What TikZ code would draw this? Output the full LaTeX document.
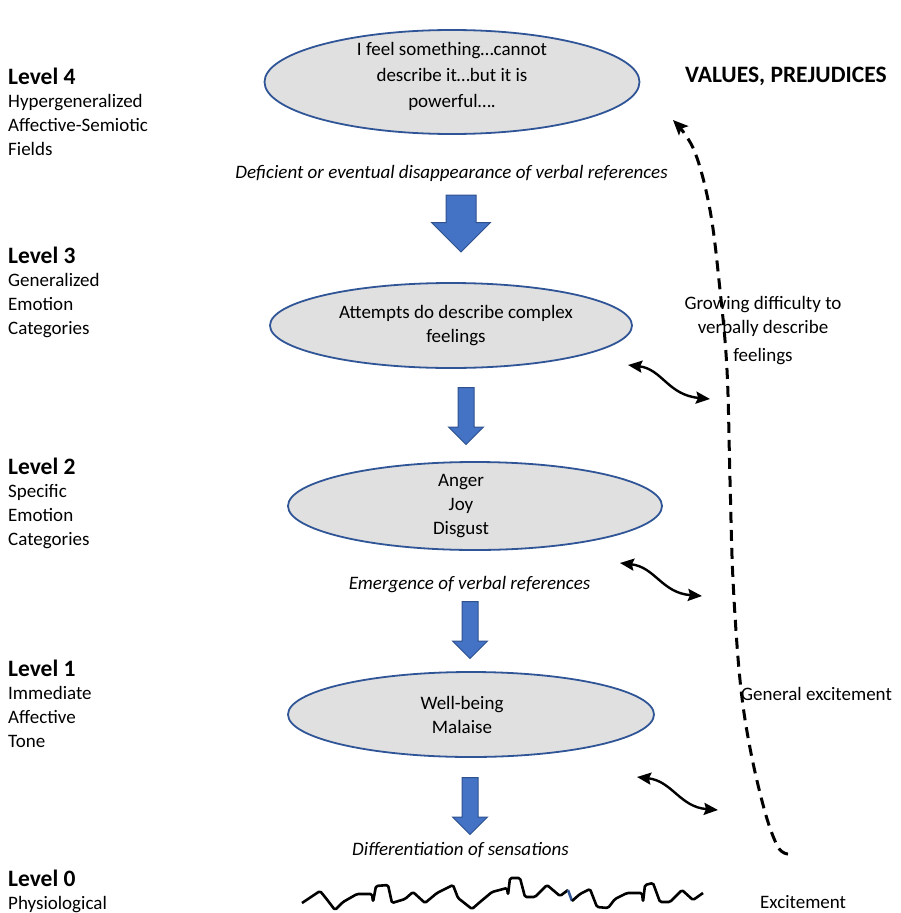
\documentclass[tikz,border=0pt]{standalone}
\usepackage{fontspec}
\setmainfont{Carlito}
\usepackage{tikz}
\usetikzlibrary{shapes,arrows,arrows.meta,positioning}
\definecolor{stagefill}{RGB}{224, 224, 224}
\definecolor{stageedge}{RGB}{47, 85, 151}
\definecolor{shiftblue}{RGB}{68, 114, 196}
\definecolor{shiftedge}{RGB}{47, 82, 143}
\tikzstyle{stage} = [ellipse, draw=stageedge, line width=1.8pt, fill=stagefill, inner sep=0pt]
\tikzstyle{stagetext} = [align=center, inner sep=0pt, font=\fontsize{19}{24}\selectfont]
\tikzstyle{lvltitle} = [anchor=west, inner sep=0pt, font=\bfseries\fontsize{23.5}{27}\selectfont]
\tikzstyle{lvldesc} = [align=left, inner sep=0pt, font=\fontsize{19}{24}\selectfont]
\tikzstyle{note} = [inner sep=0pt, font=\itshape\fontsize{19}{24}\selectfont]
\tikzstyle{sidetext} = [align=center, inner sep=0pt, font=\fontsize{19}{24}\selectfont]
\tikzstyle{bigshift} = [single arrow, draw=shiftedge, line width=1pt, fill=shiftblue, shape border rotate=270, inner sep=14.5pt, single arrow head extend=14.5pt, minimum height=57pt]
\tikzstyle{smallshift} = [single arrow, draw=shiftedge, line width=1pt, fill=shiftblue, shape border rotate=270, inner sep=7.5pt, single arrow head extend=9.5pt, minimum height=57pt]
\tikzstyle{linkedge} = [draw, line width=2.4pt, {Stealth[length=14pt,width=12pt,inset=2pt]}-{Stealth[length=14pt,width=12pt,inset=2pt]}]
\tikzstyle{riseedge} = [draw, line width=3pt, dash pattern=on 11pt off 7pt, -{Stealth[length=15pt,width=13pt,inset=3pt]}]

\begin{document}
\begin{tikzpicture}[x=1pt, y=-1pt]
\useasboundingbox (0,0) rectangle (900,913);

% levels =============================
\node[lvltitle] (l4) at (8,76) {Level 4};
\node[lvldesc, below=10pt of l4.south west, anchor=north west] (l4d) {Hypergeneralized\\Affective-Semiotic\\Fields};
\node[lvltitle] (l3) at (8,255) {Level 3};
\node[lvldesc, below=10pt of l3.south west, anchor=north west] (l3d) {Generalized\\Emotion\\Categories};
\node[lvltitle] (l2) at (8,466) {Level 2};
\node[lvldesc, below=10pt of l2.south west, anchor=north west] (l2d) {Specific\\Emotion\\Categories};
\node[lvltitle] (l1) at (8,668) {Level 1};
\node[lvldesc, below=10pt of l1.south west, anchor=north west] (l1d) {Immediate\\Affective\\Tone};
\node[lvltitle] (l0) at (8,878) {Level 0};
\node[lvldesc, below=10pt of l0.south west, anchor=north west] (l0d) {Physiological};

% stages =============================
\node[stage, minimum width=375pt, minimum height=104pt] (st4) at (452,82) {};
\node[stagetext] (st4t) at (452,76) {I feel something…cannot\\[2pt]describe it…but it is\\[2pt]powerful….};
\node[stage, minimum width=362pt, minimum height=85pt] (st3) at (451,325.5) {};
\node[stagetext] (st3t) at (456,326) {Attempts do describe complex\\feelings};
\node[stage, minimum width=374pt, minimum height=88pt] (st2) at (475,506) {};
\node[stagetext] (st2t) at (461,506) {Anger\\Joy\\Disgust};
\node[stage, minimum width=366pt, minimum height=85pt] (st1) at (471,714.5) {};
\node[stagetext] (st1t) at (462,715) {Well-being\\Malaise};

% shifts =============================
\node[note] (n43) at (451.5,173) {Deficient or eventual disappearance of verbal references};
\node[bigshift] (a43) at (461,216) {};
\node[smallshift] (a32) at (466,412) {};
\node[note] (n21) at (469.5,585) {Emergence of verbal references};
\node[smallshift] (a21) at (470,626) {};
\node[smallshift] (a10) at (470,802) {};
\node[note] (n10) at (460.5,850) {Differentiation of sensations};

% sensations
\draw[line width=2.6pt, line join=round, rounded corners=1.5pt]
  (302,903) -- (320,891) -- (325,897) -- (335,910) -- (343,902) -- (357,894) -- (372,894)
  -- (373,902) -- (376,886) -- (388,885) -- (392,903) -- (405,899) -- (413,892) -- (425,903)
  -- (437,893) -- (453,885) -- (458,898) -- (472,909) -- (480,902) -- (492,892) -- (507,888)
  -- (508,895) -- (510,878) -- (520,878) -- (525,897) -- (535,897) -- (547,885) -- (560,896)
  -- (568,890);
\draw[line width=2.6pt, stageedge] (568,890) -- (572,901);
\draw[line width=2.6pt, line join=round, rounded corners=1.5pt]
  (572,901) -- (580,894) -- (590,889) -- (597,907) -- (608,908) -- (615,899) -- (627,893)
  -- (642,893) -- (643,902) -- (645,885) -- (653,883) -- (660,902) -- (670,902) -- (682,890)
  -- (693,900) -- (703,893);

% right side =============================
\node[lvltitle] (vals) at (685,76) {VALUES, PREJUDICES};
\node[sidetext] (grow) at (763,331) {Growing difficulty to\\verbally describe\\[4pt]feelings};
\node[sidetext, anchor=west] (genex) at (741,694) {General excitement};
\node[sidetext, anchor=west] (excite) at (760,902) {Excitement};

% edges
\coordinate (risebot) at (788,854);
\coordinate (risetop) at (673,120);
\draw[riseedge] plot[smooth, tension=0.6] coordinates {(risebot) (778,847) (765,812) (750,748) (740,680) (733,580) (730,480) (727,370) (720,290) (710,210) (694,150) (risetop)};

\coordinate (d3a) at (628,365);
\coordinate (d3b) at (710,399);
\coordinate (d2a) at (620,563);
\coordinate (d2b) at (702,596);
\coordinate (d1a) at (637,777);
\coordinate (d1b) at (718,810);
\path[linkedge] (d3a) .. controls (662,369) and (668,395) .. (d3b);
\path[linkedge] (d2a) .. controls (655,567) and (662,593) .. (d2b);
\path[linkedge] (d1a) .. controls (672,781) and (680,807) .. (d1b);

\end{tikzpicture}
\end{document}
